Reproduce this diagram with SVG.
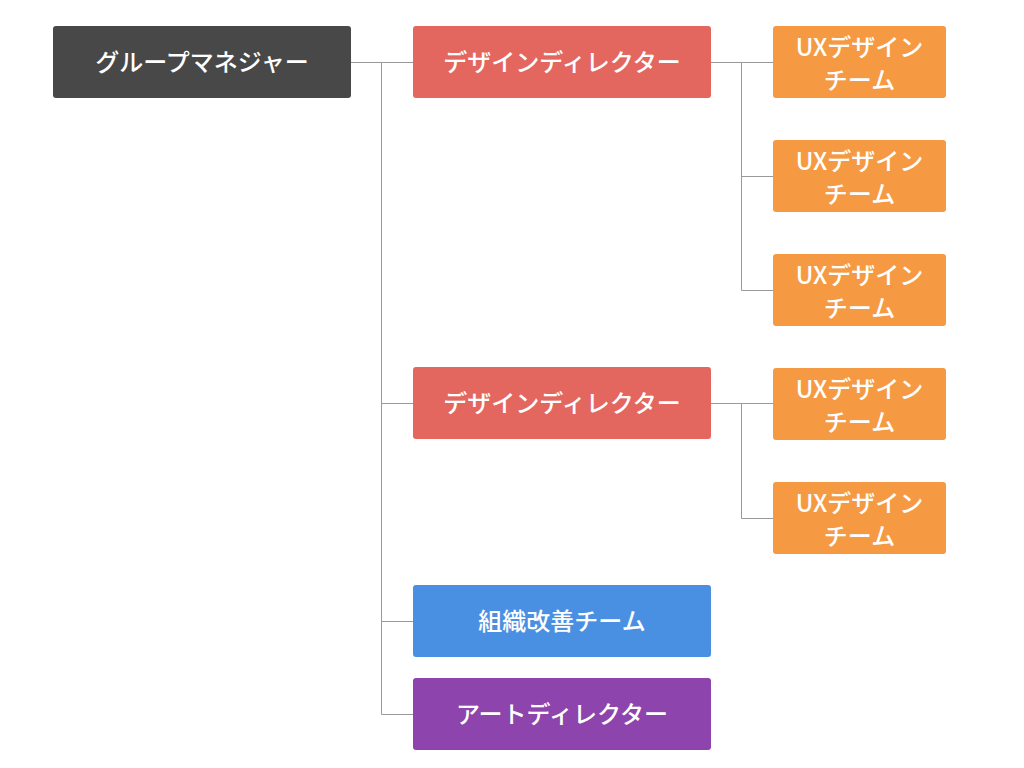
<svg xmlns="http://www.w3.org/2000/svg" width="1024" height="768" viewBox="0 0 1024 768">
<style>
.t{font-family:"Noto Sans CJK JP","Noto Sans",sans-serif;font-weight:500;fill:#fff;text-anchor:middle;dominant-baseline:central}
.b{font-size:24px}
.s{font-size:24px}
.c{fill:none;stroke:#999;stroke-width:1}
</style>
<rect width="1024" height="768" fill="#fff"/>
<g id="connectors">
<path class="c" d="M351 62.5H381.5V714.5M381.5 62.5H413M381.5 403.5H413M381.5 621.5H413M381.5 714.5H413"/>
<path class="c" d="M711 62.5H741.5V290.5M741.5 62.5H773M741.5 176.5H773M741.5 290.5H773"/>
<path class="c" d="M711 403.5H741.5V518.5H773M741.5 403.5H773"/>
</g>
<g id="manager"><rect x="53" y="26" width="298" height="72" rx="3" fill="#484848"/><text class="t b" x="202" y="60">グループマネジャー</text></g>
<g id="director1"><rect x="413" y="26" width="298" height="72" rx="3" fill="#e4675f"/><text class="t b" x="562" y="60">デザインディレクター</text></g>
<g id="director2"><rect x="413" y="367" width="298" height="72" rx="3" fill="#e4675f"/><text class="t b" x="562" y="401">デザインディレクター</text></g>
<g id="org"><rect x="413" y="585" width="298" height="72" rx="3" fill="#4a90e2"/><text class="t b" x="562" y="619">組織改善チーム</text></g>
<g id="art"><rect x="413" y="678" width="298" height="72" rx="3" fill="#8e44ad"/><text class="t b" x="562" y="712">アートディレクター</text></g>
<g id="ux1"><rect x="773" y="26" width="173" height="72" rx="3" fill="#f59a42"/><text class="t s" x="859.5" y="45">UXデザイン</text><text class="t s" x="859.5" y="78">チーム</text></g>
<g id="ux2"><rect x="773" y="140" width="173" height="72" rx="3" fill="#f59a42"/><text class="t s" x="859.5" y="159">UXデザイン</text><text class="t s" x="859.5" y="192">チーム</text></g>
<g id="ux3"><rect x="773" y="254" width="173" height="72" rx="3" fill="#f59a42"/><text class="t s" x="859.5" y="273">UXデザイン</text><text class="t s" x="859.5" y="306">チーム</text></g>
<g id="ux4"><rect x="773" y="368" width="173" height="72" rx="3" fill="#f59a42"/><text class="t s" x="859.5" y="387">UXデザイン</text><text class="t s" x="859.5" y="420">チーム</text></g>
<g id="ux5"><rect x="773" y="482" width="173" height="72" rx="3" fill="#f59a42"/><text class="t s" x="859.5" y="501">UXデザイン</text><text class="t s" x="859.5" y="534">チーム</text></g>
</svg>
